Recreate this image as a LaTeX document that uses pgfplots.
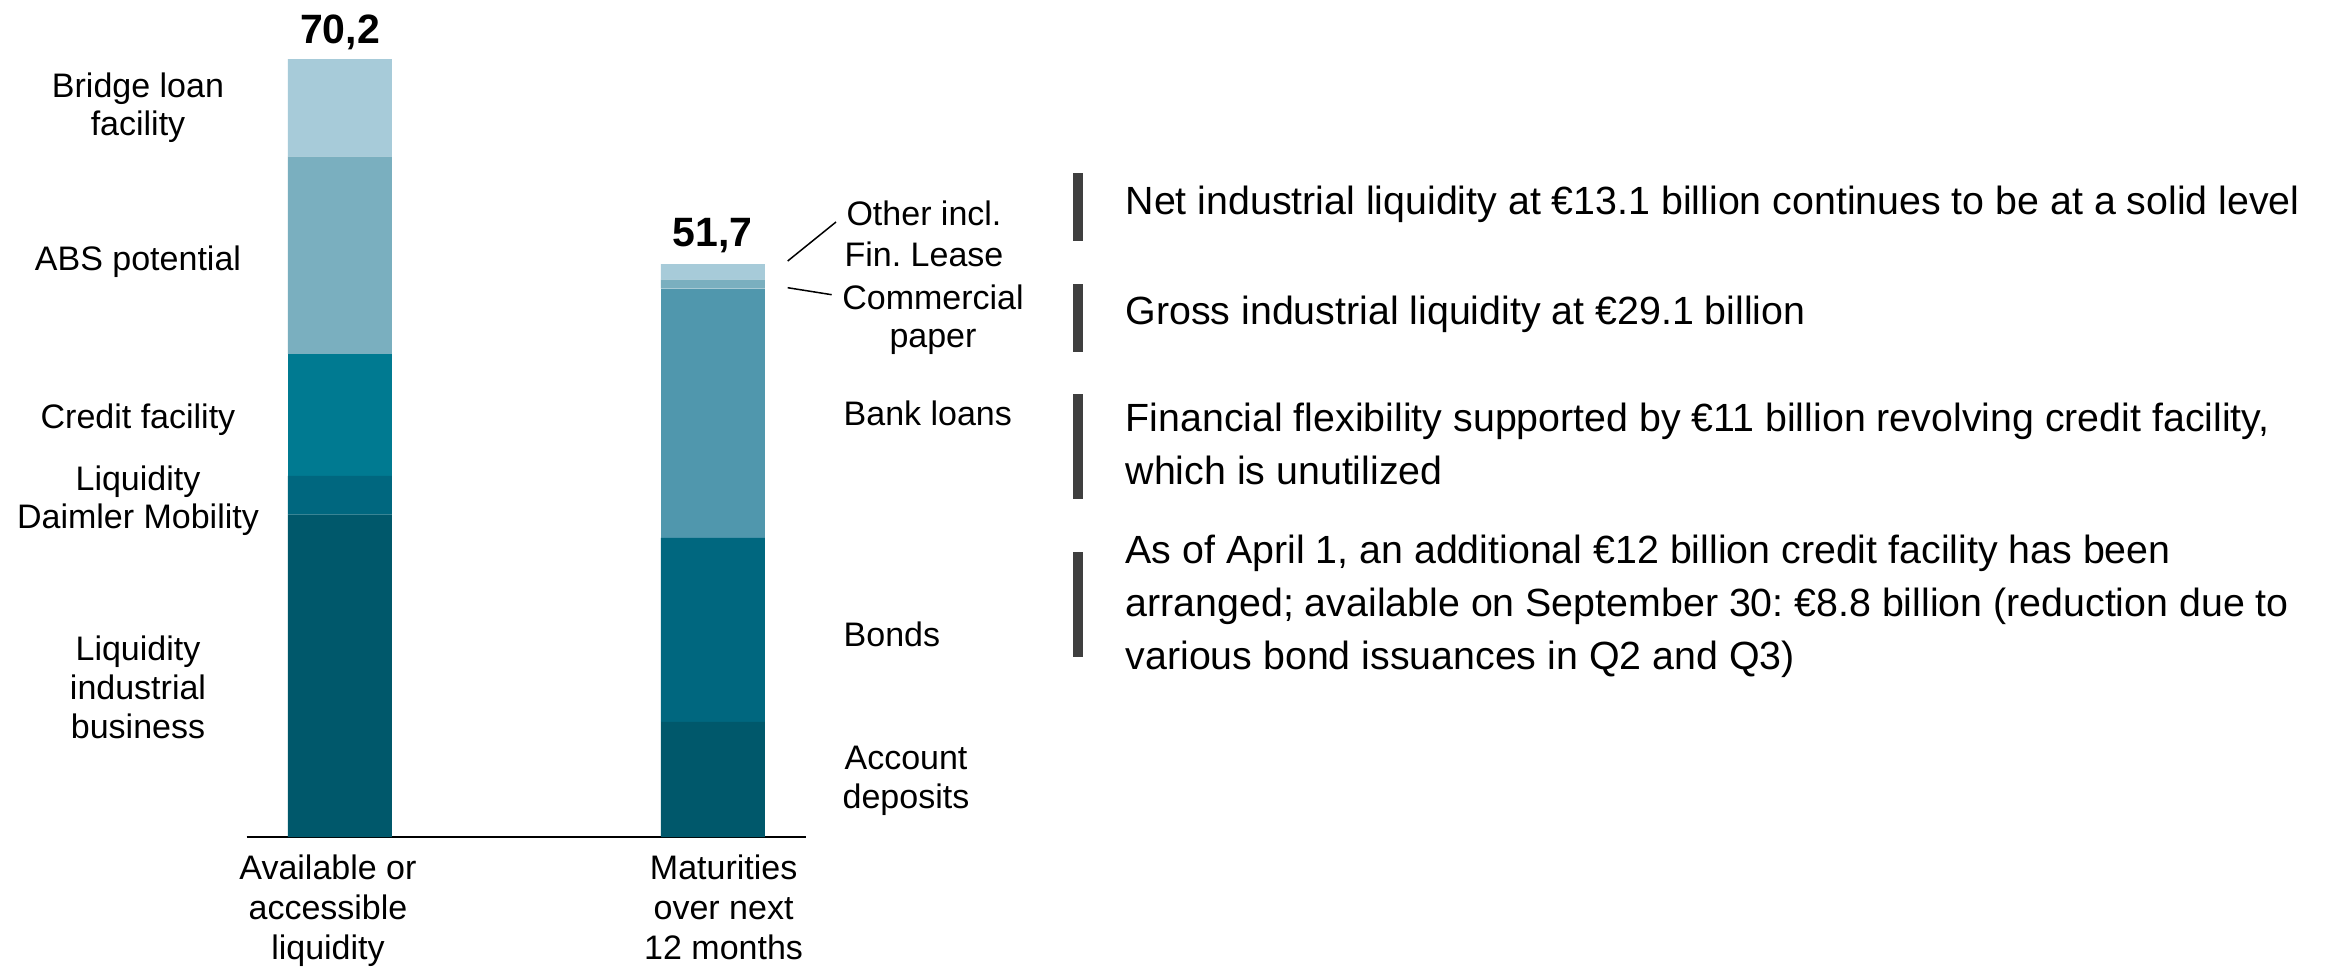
\documentclass[border=0pt]{standalone}
\usepackage{fontspec}
\setmainfont{Liberation Sans}
\usepackage{pgfplots}
\pgfplotsset{compat=1.18}
\definecolor{cA}{HTML}{00586B}
\definecolor{cB}{HTML}{00677F}
\definecolor{cC}{HTML}{007A91}
\definecolor{cD}{HTML}{5097AD}
\definecolor{cE}{HTML}{7AAFBF}
\definecolor{cF}{HTML}{A7CBD9}
\definecolor{barg}{HTML}{3F3F3F}
\newcommand\fL{\fontsize{10.2pt}{12pt}\selectfont}
\newcommand\fR{\fontsize{11.8pt}{14pt}\selectfont}
\frenchspacing
\begin{document}
\frenchspacing
\begin{tikzpicture}
\begin{scope}[x=0.3pt,y=-0.3pt]
\useasboundingbox[fill=white] (0,0) rectangle (2327,967);
\end{scope}
\begin{axis}[
  at={(74.01pt,-251.1pt)}, anchor=south west,
  scale only axis, width=167.8pt, height=233.34pt,
  xmin=-0.25, xmax=1.25, ymin=0, ymax=70.2,
  ybar stacked, bar width=31.2pt,
  axis x line*=bottom, axis y line=none,
  x axis line style={black, line width=0.5pt, -},
  xtick={-0.032,1.029},
  xticklabels={{Available or\\accessible\\liquidity},{Maturities\\over next\\12 months}},
  xticklabel style={align=center, font=\fL, inner sep=0pt, anchor=north, yshift=-5.2pt},
  major tick length=0pt,
  ytick=\empty,
  clip=false,
]
\addplot[fill=cA, draw=none] coordinates {(0,29.1) (1,10.4)};
\addplot[fill=cB, draw=none] coordinates {(0,3.5) (1,16.6)};
\addplot[fill=cC, draw=none] coordinates {(0,11.0) (1,0)};
\addplot[fill=cD, draw=none] coordinates {(0,0) (1,22.5)};
\addplot[fill=cE, draw=none] coordinates {(0,17.8) (1,0.8)};
\addplot[fill=cF, draw=none] coordinates {(0,8.8) (1,1.4)};
\node[anchor=base, yshift=4.6pt, font=\bfseries\fontsize{12.3pt}{14pt}\selectfont] at (axis cs:0,70.2) {70,2};
\node[anchor=base, yshift=5.3pt, font=\bfseries\fontsize{12.3pt}{14pt}\selectfont] at (axis cs:1,51.7) {51,7};
\end{axis}
\begin{scope}[x=0.3pt,y=-0.3pt]
% left labels
\node[anchor=base, font=\fL, inner sep=0pt] at (138,97) {Bridge loan};
\node[anchor=base, font=\fL, inner sep=0pt] at (138,135) {facility};
\node[anchor=base, font=\fL, inner sep=0pt] at (138,270) {ABS potential};
\node[anchor=base, font=\fL, inner sep=0pt] at (138,428) {Credit facility};
\node[anchor=base, font=\fL, inner sep=0pt] at (138,490) {Liquidity};
\node[anchor=base, font=\fL, inner sep=0pt] at (138,528.5) {Daimler Mobility};
\node[anchor=base, font=\fL, inner sep=0pt] at (138,660) {Liquidity};
\node[anchor=base, font=\fL, inner sep=0pt] at (138,699) {industrial};
\node[anchor=base, font=\fL, inner sep=0pt] at (138,738) {business};
% right labels
\node[anchor=base, font=\fL, inner sep=0pt] at (924,225) {Other incl.};
\node[anchor=base, font=\fL, inner sep=0pt] at (924,266) {Fin.\ Lease};
\node[anchor=base, font=\fL, inner sep=0pt] at (933,309) {Commercial};
\node[anchor=base, font=\fL, inner sep=0pt] at (933,347) {paper};
\node[anchor=base west, font=\fL, inner sep=0pt] at (843,425) {Bank loans};
\node[anchor=base west, font=\fL, inner sep=0pt] at (843,646) {Bonds};
\node[anchor=base, font=\fL, inner sep=0pt] at (906,769) {Account};
\node[anchor=base, font=\fL, inner sep=0pt] at (906,808) {deposits};
\draw[line width=0.45pt] (787.7,261) -- (836,222);
\draw[line width=0.45pt] (787.7,287.7) -- (831.7,294.7);
% bullet bars
\fill[barg] (1073,172.7) rectangle (1083,240.7);
\fill[barg] (1073,284) rectangle (1083,352);
\fill[barg] (1073,394) rectangle (1083,499);
\fill[barg] (1073,551.7) rectangle (1083,657);
% right text
\node[anchor=base west, font=\fR, inner sep=0pt] at (1125,214) {Net industrial liquidity at €13.1 billion continues to be at a solid level};
\node[anchor=base west, font=\fR, inner sep=0pt] at (1125,324.5) {Gross industrial liquidity at €29.1 billion};
\node[anchor=base west, font=\fR, inner sep=0pt] at (1125,431) {Financial flexibility supported by €11 billion revolving credit facility,};
\node[anchor=base west, font=\fR, inner sep=0pt] at (1125,484) {which is unutilized};
\node[anchor=base west, font=\fR, inner sep=0pt] at (1125,563) {As of April 1, an additional €12 billion credit facility has been};
\node[anchor=base west, font=\fR, inner sep=0pt] at (1125,616.5) {arranged; available on September 30: €8.8 billion (reduction due to};
\node[anchor=base west, font=\fR, inner sep=0pt] at (1125,669.5) {various bond issuances in Q2 and Q3)};
\end{scope}
\end{tikzpicture}
\end{document}
